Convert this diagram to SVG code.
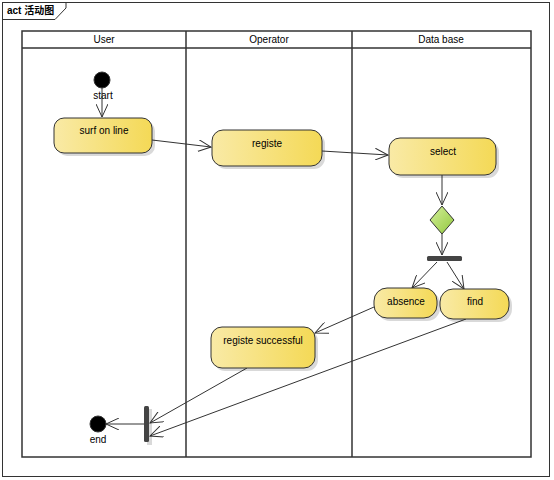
<svg xmlns="http://www.w3.org/2000/svg" width="554" height="480" viewBox="0 0 554 480">
<style>
.frame{fill:none;stroke:#333;stroke-width:1}
.lane{fill:none;stroke:#333;stroke-width:1.5}
.hdr{font-family:"Liberation Sans",Arial,sans-serif;font-size:10px;fill:#000;text-anchor:middle}
.t{font-family:"Liberation Sans",Arial,sans-serif;font-size:10px;fill:#000;text-anchor:middle}
.node{fill:url(#g);stroke:#333;stroke-width:1}
.sh{fill:#000;opacity:0.15}
.edge{fill:none;stroke:#333;stroke-width:1;marker-end:url(#arr)}
</style>
<defs>
<linearGradient id="g" x1="0" y1="0" x2="1" y2="0">
<stop offset="0" stop-color="#f9eaa6"/>
<stop offset="1" stop-color="#f4d956"/>
</linearGradient>
<linearGradient id="gd" x1="0" y1="0" x2="1" y2="1">
<stop offset="0" stop-color="#d4ef9a"/>
<stop offset="1" stop-color="#92c83e"/>
</linearGradient>
<marker id="arr" markerWidth="14" markerHeight="12" refX="13" refY="6" orient="auto" markerUnits="userSpaceOnUse">
<path d="M0,0 L13,6 L0,12" fill="none" stroke="#333" stroke-width="1"/>
</marker>
</defs>
<rect width="554" height="480" fill="#fff"/>
<g id="frame">
<rect class="frame" x="2.5" y="2.5" width="547" height="474"/>
<path class="frame" d="M2.5,19.5 H55 L66,8 V2.5"/>
<text x="7" y="14" font-family="'Liberation Sans','Noto Sans CJK SC',sans-serif" font-size="10" font-weight="bold">act 活动图</text>
</g>
<g id="lanes">
<rect class="lane" x="22" y="31" width="509" height="426"/>
<line class="lane" x1="22" y1="48" x2="531" y2="48"/>
<line class="lane" x1="186" y1="31" x2="186" y2="457"/>
<line class="lane" x1="352" y1="31" x2="352" y2="457"/>
<text class="hdr" x="104" y="43">User</text>
<text class="hdr" x="269" y="43">Operator</text>
<text class="hdr" x="441" y="43">Data base</text>
</g>
<g id="edges">
<line class="edge" x1="102" y1="88" x2="102" y2="117"/>
<line class="edge" x1="152" y1="140" x2="211" y2="147"/>
<line class="edge" x1="322" y1="151" x2="388" y2="155"/>
<line class="edge" x1="442" y1="175" x2="442" y2="205"/>
<line class="edge" x1="442" y1="234" x2="442" y2="255"/>
<line class="edge" x1="437" y1="262" x2="412" y2="288"/>
<line class="edge" x1="447" y1="262" x2="464" y2="289"/>
<line class="edge" x1="374" y1="307" x2="315" y2="333"/>
<line class="edge" x1="247" y1="368" x2="150" y2="423"/>
<line class="edge" x1="466" y1="319" x2="150" y2="436"/>
<line class="edge" x1="144" y1="424" x2="106" y2="424"/>
</g>
<g id="start">
<circle cx="102" cy="80" r="8" fill="#000" stroke="#333"/>
<text class="t" x="103" y="99">start</text>
</g>
<g id="surf">
<rect class="sh" x="57" y="121" width="98" height="35" rx="10"/>
<rect class="node" x="54" y="118" width="98" height="35" rx="10"/>
<text class="t" x="104" y="134">surf on line</text>
</g>
<g id="registe">
<rect class="sh" x="215" y="133" width="110" height="36" rx="11"/>
<rect class="node" x="212" y="130" width="110" height="36" rx="11"/>
<text class="t" x="267" y="147">registe</text>
</g>
<g id="select">
<rect class="sh" x="392" y="141" width="107" height="37" rx="11"/>
<rect class="node" x="389" y="138" width="107" height="37" rx="11"/>
<text class="t" x="443" y="155">select</text>
</g>
<g id="decision">
<path d="M442,206 L454,220 L442,234 L430,220 Z" fill="url(#gd)" stroke="#333"/>
</g>
<g id="fork">
<rect x="427" y="256" width="35" height="5" rx="1.5" fill="#444"/>
</g>
<g id="absence">
<rect class="sh" x="377" y="291" width="63" height="30" rx="13"/>
<rect class="node" x="374" y="288" width="63" height="30" rx="13"/>
<text class="t" x="406" y="305">absence</text>
</g>
<g id="find">
<rect class="sh" x="443" y="292" width="69" height="30" rx="13"/>
<rect class="node" x="440" y="289" width="69" height="30" rx="13"/>
<text class="t" x="475" y="305">find</text>
</g>
<g id="registe_successful">
<rect class="sh" x="214" y="330" width="104" height="41" rx="11"/>
<rect class="node" x="211" y="327" width="104" height="41" rx="11"/>
<text class="t" x="263" y="344">registe successful</text>
</g>
<g id="join">
<rect x="147" y="409" width="5" height="36" fill="#000" opacity="0.15"/>
<rect x="144" y="406" width="5" height="36" rx="1.5" fill="#444"/>
</g>
<g id="end">
<circle cx="98" cy="424" r="8" fill="#000" stroke="#333"/>
<text class="t" x="98" y="443">end</text>
</g>
</svg>
